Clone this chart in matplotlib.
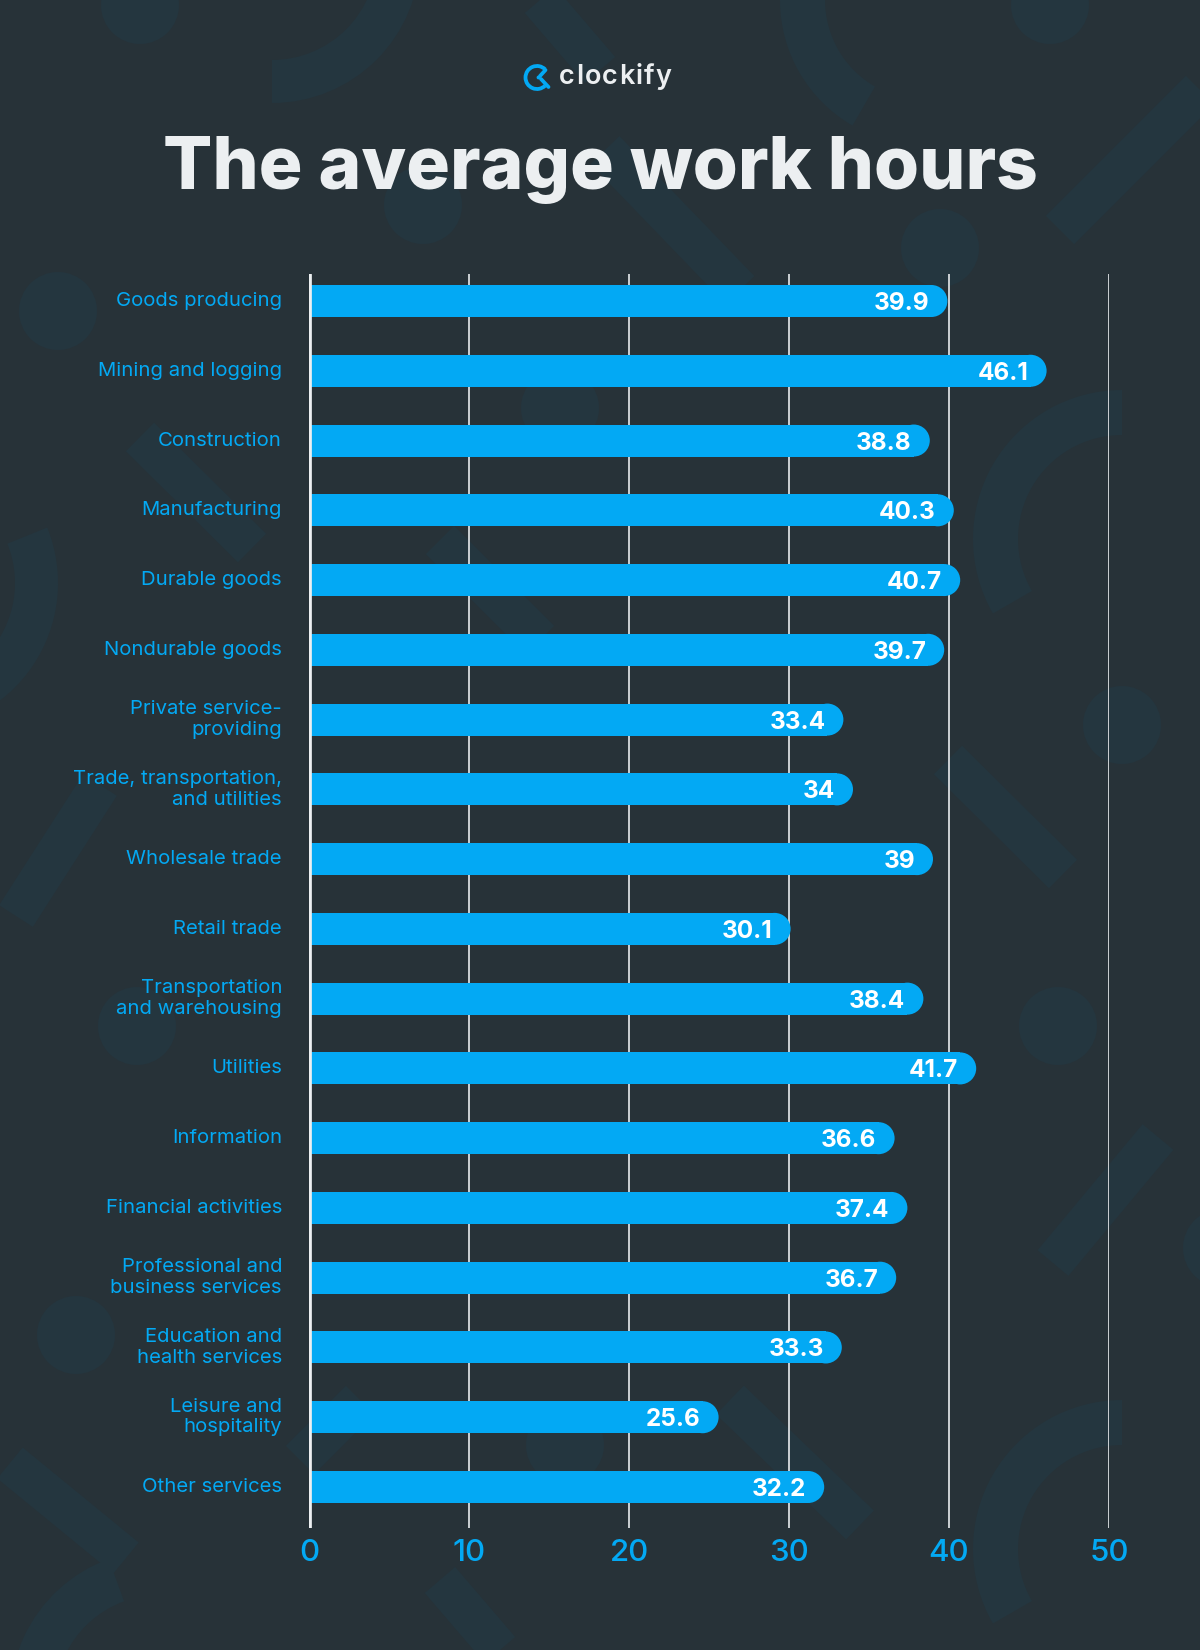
import matplotlib
matplotlib.use('Agg')
import matplotlib.pyplot as plt
from matplotlib.patches import Circle, Wedge, Ellipse, Arc
from matplotlib.transforms import blended_transform_factory
import numpy as np

# ---------------- data ----------------
categories = [
    'Goods producing', 'Mining and logging', 'Construction', 'Manufacturing',
    'Durable goods', 'Nondurable goods', 'Private service-\nproviding',
    'Trade, transportation,\nand utilities', 'Wholesale trade', 'Retail trade',
    'Transportation\nand warehousing', 'Utilities', 'Information',
    'Financial activities', 'Professional and\nbusiness services',
    'Education and\nhealth services', 'Leisure and\nhospitality', 'Other services',
]
hours = [39.9, 46.1, 38.8, 40.3, 40.7, 39.7, 33.4, 34, 39, 30.1,
         38.4, 41.7, 36.6, 37.4, 36.7, 33.3, 25.6, 32.2]
value_labels = ['39.9', '46.1', '38.8', '40.3', '40.7', '39.7', '33.4', '34', '39',
                '30.1', '38.4', '41.7', '36.6', '37.4', '36.7', '33.3', '25.6', '32.2']
x_ticks = [0, 10, 20, 30, 40, 50]
x_tick_labels = ['0', '10', '20', '30', '40', '50']
title = 'The average work hours'
brand = 'clockify'

# ---------------- style ----------------
plt.rcParams['font.family'] = ['Inter', 'DejaVu Sans']
BG = '#273238'
SHAPE = '#24363f'
BLUE = '#03a9f4'
WHITE = '#eceff1'
W, H = 1200, 1650

fig = plt.figure(figsize=(12, 16.5), dpi=100, facecolor=BG)

# background / decoration layer in pixel coordinates (y down)
bg = fig.add_axes([0, 0, 1, 1], zorder=0)
bg.set_xlim(0, W)
bg.set_ylim(H, 0)
bg.axis('off')
bg.set_facecolor(BG)

def ring(cx, cy, r, w, a1, a2):
    bg.add_patch(Wedge((cx, cy), r, -a2, -a1, width=w, color=SHAPE, lw=0, zorder=0))

def band(x1, y1, x2, y2, w=40):
    bg.plot([x1, x2], [y1, y2], color=SHAPE, lw=w * 0.72, solid_capstyle='butt', zorder=0)

def dot(cx, cy, r=39):
    bg.add_patch(Circle((cx, cy), r, color=SHAPE, lw=0, zorder=0))

# decorative shapes
for c in [(140, 5), (1050, 5), (58, 311), (423, 205), (940, 248), (1122, 725),
          (1058, 1026), (76, 1335), (137, 1026), (1222, 1248), (560, 408), (565, 1445)]:
    dot(*c)
ring(272, -45, 148, 43, 270, 360)
ring(-90, 583, 148, 43, -90, 22)
ring(1122, 539, 149, 45, 90, 210)
ring(1122, 1549, 149, 45, 90, 210)
ring(925, 0, 145, 45, 180, 240)
ring(160, 1700, 150, 45, 110, 200)
band(140, 437, 252, 548)
band(948, 760, 1063, 874)
band(16, 916, 100, 785)
band(1053, 1263, 1158, 1137)
band(730, 1400, 860, 1525)
band(10, 1463, 126, 1558)
band(1060, 230, 1200, 90)
band(605, 150, 740, 290)
band(540, 0, 600, 70)
band(300, 1460, 360, 1400)
band(440, 540, 540, 640)
band(440, 1580, 500, 1650)

# logo icon
bg.add_patch(Arc((537, 77.5), 23, 23, theta1=45, theta2=315, color=BLUE, lw=3.8 * 0.72, zorder=5))
bg.plot([540.0, 545.5], [76.0, 70.0], color=BLUE, lw=2.7, solid_capstyle='round', zorder=5)
bg.plot([541.0, 548.5], [79.0, 87.0], color=BLUE, lw=2.7, solid_capstyle='round', zorder=5)
bg.add_patch(Circle((538.5, 77.5), 1.9, color=BLUE, lw=0, zorder=5))

# ---------------- chart ----------------
ax = fig.add_axes([309 / W, 1 - 1528 / H, 800 / W, (1528 - 274) / H], zorder=2)
ax.patch.set_alpha(0)
n = len(categories)
y = np.arange(n)
px_per_row = (1528 - 274 - 27 - 41) / (n - 1)
ax.set_xlim(0, 50)
ax.set_ylim(n - 1 + 41 / px_per_row, -27 / px_per_row)

bar_h = 32 / px_per_row
rx = 16 / 16.0  # 16 px radius, 16 px per unit
vals = np.array(hours)
ax.barh(y, vals - rx, height=bar_h, color=BLUE, lw=0, zorder=3)
for yi, v in zip(y, vals):
    ax.add_patch(Ellipse((v - rx, yi), 2 * rx, bar_h, color=BLUE, lw=0, zorder=3))

for t in x_ticks[1:]:
    ax.axvline(t, color='#d9dde0', lw=1.3, zorder=1)
ax.axvline(0, color=WHITE, lw=3.4, solid_capstyle='round', zorder=5)

for s in ax.spines.values():
    s.set_visible(False)
ax.set_yticks([])
ax.set_xticks(x_ticks)
ax.set_xticklabels(x_tick_labels)
ax.tick_params(axis='x', length=0, pad=8, labelsize=22.5, labelcolor=BLUE)
for lbl in ax.get_xticklabels():
    lbl.set_fontweight('medium')

tr = blended_transform_factory(ax.transAxes, ax.transData)
for yi, cat in zip(y, categories):
    ax.text(-27 / 800, yi, cat, transform=tr, ha='right', va='center',
            fontsize=14.6, color=BLUE, linespacing=1.18)

for yi, v, lab in zip(y, vals, value_labels):
    ax.annotate(lab, xy=(v, yi), xytext=(-18, -9), textcoords='offset pixels',
                ha='right', va='baseline', color='white', fontsize=17.5,
                fontweight='bold', zorder=6)

# ---------------- title & brand ----------------
fig.text(0.5, 1 - 189 / H, title, ha='center', va='baseline', fontsize=52.5,
         fontweight=800, color=WHITE)

renderer = fig.canvas.get_renderer()
xpos = 559.0
for ch in brand:
    t = fig.text(xpos / W, 1 - 84 / H, ch, ha='left', va='baseline', fontsize=19.5,
                 fontweight='semibold', color=WHITE)
    xpos += t.get_window_extent(renderer).width + 1.2

fig.savefig('out.png', dpi=100, facecolor=BG)
